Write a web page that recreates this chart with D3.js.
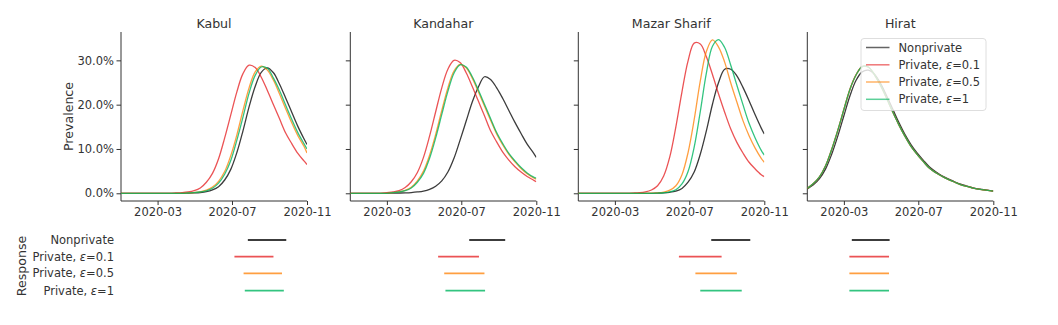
<!DOCTYPE html>
<html>
<head>
<meta charset="utf-8">
<script src="https://cdn.jsdelivr.net/npm/d3@7/dist/d3.min.js"></script>
<style>
  html, body { margin: 0; padding: 0; background: #fff; }
  svg { display: block; font-family: "DejaVu Sans", sans-serif; }
  .axis path, .axis line { stroke: #333; }
  .axis text { fill: #333; font-size: 11.5px; font-family: "DejaVu Sans", sans-serif; }
</style>
</head>
<body>
<svg id="chart" width="1058" height="325"></svg>
<script>
// ---------------- DATA ----------------
const cities = ["Kabul", "Kandahar", "Mazar Sharif", "Hirat"];
const seriesNames = ["Nonprivate", "Private, ε=0.1", "Private, ε=0.5", "Private, ε=1"];
const xTickLabels = ["2020-03", "2020-07", "2020-11"];
const yTickValues = [0, 10, 20, 30];

const dates = ["2020-01-01","2020-01-11","2020-01-21","2020-01-31","2020-02-10","2020-02-20",
  "2020-03-01","2020-03-11","2020-03-21","2020-03-31","2020-04-10","2020-04-20","2020-04-30",
  "2020-05-10","2020-05-20","2020-05-30","2020-06-09","2020-06-19","2020-06-29","2020-07-09",
  "2020-07-19","2020-07-29","2020-08-08","2020-08-18","2020-08-28","2020-09-07","2020-09-17",
  "2020-09-27","2020-10-07","2020-10-17","2020-10-27","2020-11-01"];

// Prevalence (%) per city and series
const kabulNonprivate = [0,0,0,0,0,0,0,0,0,0,0,0.04,0.09,0.18,0.37,0.76,1.5,3.0,5.4,9.2,14.1,19.5,24.1,27.3,28.3,27.2,24.6,21.5,18.3,15.1,12.3,11.0];
const kabulEps01 = [0,0,0,0,0,0,0,0,0,0.07,0.15,0.3,0.6,1.2,2.5,4.5,7.8,12.5,17.7,22.9,27.0,28.9,28.4,26.2,23.2,20.0,16.8,13.6,11.2,9.0,7.3,6.5];
const kabulEps05 = [0,0,0,0,0,0,0,0,0,0,0,0.08,0.17,0.34,0.7,1.4,2.7,4.9,8.5,13.2,18.7,23.8,27.4,28.7,27.8,25.5,22.4,19.1,15.9,13.0,10.6,9.1];
const kabulEps1 = [0,0,0,0,0,0,0,0,0,0,0,0.07,0.14,0.29,0.57,1.15,2.3,4.3,7.4,12.0,17.2,22.6,26.6,28.5,28.2,26.0,23.2,19.9,16.7,13.7,11.2,10.0];

const kandaharNonprivate = [0,0,0,0,0,0,0,0.03,0.06,0.1,0.17,0.3,0.5,0.9,1.6,2.8,4.8,7.9,12.0,16.3,20.6,24.0,26.3,25.7,23.8,21.4,18.7,16.0,13.5,11.1,9.2,8.1];
const kandaharEps01 = [0,0,0,0,0,0,0.15,0.3,0.6,1.3,2.6,4.7,8.1,12.9,18.4,23.8,28.0,30.0,29.5,27.2,24.1,20.8,17.5,14.1,11.6,9.3,7.5,6.0,4.8,3.8,3.0,2.6];
const kandaharEps05 = [0,0,0,0,0,0,0,0.17,0.33,0.65,1.35,2.8,5.0,8.6,13.3,18.7,23.8,27.6,29.1,28.3,26.0,22.9,19.7,16.5,13.4,10.9,8.8,7.1,5.6,4.4,3.5,3.2];
const kandaharEps1 = [0,0,0,0,0,0,0,0.15,0.29,0.58,1.2,2.5,4.5,7.9,12.5,17.8,23.0,27.1,29.0,28.5,26.3,23.3,20.1,16.9,13.7,11.2,9.0,7.3,5.8,4.6,3.7,3.4];

const mazarNonprivate = [0,0,0,0,0,0,0,0,0,0,0,0,0,0.05,0.1,0.23,0.5,1.1,2.5,4.8,8.8,14.1,20.1,25.0,28.0,28.0,26.5,23.9,20.9,17.7,14.7,13.4];
const mazarEps01 = [0,0,0,0,0,0,0,0,0,0.05,0.12,0.3,0.75,1.7,3.9,8.2,15.0,22.9,29.9,33.9,33.7,30.8,26.8,22.4,18.3,14.5,11.5,9.1,7.0,5.5,4.2,3.75];
const mazarEps05 = [0,0,0,0,0,0,0,0,0,0,0,0,0.04,0.1,0.28,0.7,1.7,4.2,9.2,16.6,25.3,32.0,34.6,33.0,29.6,24.9,20.6,16.4,13.0,10.2,7.9,7.0];
const mazarEps1 = [0,0,0,0,0,0,0,0,0,0,0,0,0,0.05,0.12,0.3,0.8,2.1,4.9,10.4,18.4,27.1,33.2,34.7,32.9,28.9,24.4,20.0,15.8,12.5,9.7,8.6];

const hiratNonprivate = [1.0,1.9,3.3,5.5,8.8,12.9,17.5,22.0,25.5,27.4,27.8,26.9,24.8,22.0,19.0,16.0,13.3,11.0,9.1,7.5,6.0,4.9,4.0,3.3,2.7,2.1,1.7,1.3,1.0,0.8,0.6,0.52];
const hiratEps01 = [1.1,2.2,3.7,6.2,9.9,14.2,18.9,23.5,26.8,28.6,28.5,26.8,24.4,21.5,18.4,15.5,12.9,10.6,8.8,7.2,5.7,4.7,3.9,3.2,2.6,2.0,1.6,1.25,0.95,0.75,0.58,0.5];
const hiratEps05 = [1.1,2.2,3.7,6.2,9.9,14.2,18.9,23.5,26.7,28.6,28.5,26.8,24.4,21.5,18.4,15.5,12.9,10.6,8.8,7.2,5.7,4.7,3.9,3.2,2.6,2.0,1.6,1.25,0.95,0.75,0.58,0.5];
const hiratEps1 = [1.1,2.2,3.7,6.2,9.9,14.2,18.9,23.5,26.7,28.6,28.5,26.8,24.4,21.5,18.4,15.5,12.9,10.6,8.8,7.2,5.7,4.7,3.9,3.2,2.6,2.0,1.6,1.25,0.95,0.75,0.58,0.5];

// Response periods [start, end] per city, in series order
const kabulResponse = [["2020-07-27","2020-09-28"],["2020-07-05","2020-09-07"],["2020-07-20","2020-09-21"],["2020-07-22","2020-09-24"]];
const kandaharResponse = [["2020-07-14","2020-09-11"],["2020-05-24","2020-07-30"],["2020-06-03","2020-08-08"],["2020-06-05","2020-08-09"]];
const mazarResponse = [["2020-08-06","2020-10-09"],["2020-06-14","2020-08-23"],["2020-07-11","2020-09-17"],["2020-07-19","2020-09-25"]];
const hiratResponse = [["2020-03-14","2020-05-15"],["2020-03-10","2020-05-14"],["2020-03-10","2020-05-14"],["2020-03-10","2020-05-14"]];

// ---------------- BUILD ----------------
const parse = d3.timeParse("%Y-%m-%d");
const dateObjs = dates.map(parse);
const cityValues = [
  [kabulNonprivate, kabulEps01, kabulEps05, kabulEps1],
  [kandaharNonprivate, kandaharEps01, kandaharEps05, kandaharEps1],
  [mazarNonprivate, mazarEps01, mazarEps05, mazarEps1],
  [hiratNonprivate, hiratEps01, hiratEps05, hiratEps1]
];
const cityResponse = [kabulResponse, kandaharResponse, mazarResponse, hiratResponse];

const colors = ["#1a1a1a", "#e41a1c", "#ff7f00", "#00b560"];
const opac = [0.85, 0.75, 0.75, 0.8];

const svg = d3.select("#chart");
const panelLeft = [121, 350.3, 578.3, 807.3];
const panelW = 186;
const plotTop = 32, plotBottom = 201;

const y = d3.scaleLinear().domain([-1.74, 36.4]).range([plotBottom, plotTop]);
const xDomain = [parse("2020-01-01"), parse("2020-11-01")];
const tickDates = xTickLabels.map(s => parse(s + "-01"));

const rowY = [240, 256.7, 273.3, 290.7];

cities.forEach((city, ci) => {
  const x = d3.scaleTime().domain(xDomain).range([panelLeft[ci], panelLeft[ci] + panelW]);
  const g = svg.append("g");

  const yAx = d3.axisLeft(y).tickValues(yTickValues).tickSize(4.5).tickPadding(2.5)
    .tickFormat(ci === 0 ? (d => d3.format(".1f")(d) + "%") : () => "");
  const yg = g.append("g").attr("class", "axis").attr("transform", `translate(${panelLeft[ci]},0)`).call(yAx);
  yg.select(".domain").attr("d", `M0,${plotTop}V${plotBottom}`);

  const xAx = d3.axisBottom(x).tickValues(tickDates).tickSize(4).tickPadding(3)
    .tickFormat(d3.timeFormat("%Y-%m"));
  const xg = g.append("g").attr("class", "axis").attr("transform", `translate(0,${plotBottom})`).call(xAx);
  xg.select(".domain").attr("d", `M${panelLeft[ci]},0H${panelLeft[ci] + panelW}`);

  g.append("text").attr("x", panelLeft[ci] + panelW / 2).attr("y", 27.5)
    .attr("text-anchor", "middle").attr("font-size", "12.6px").attr("fill", "#333").text(city);

  const clipId = "clip" + ci;
  svg.append("clipPath").attr("id", clipId).append("rect")
    .attr("x", panelLeft[ci]).attr("y", plotTop).attr("width", panelW).attr("height", plotBottom - plotTop);
  const line = d3.line().x((d, i) => x(dateObjs[i])).y(d => y(d)).curve(d3.curveCatmullRom.alpha(0.5));
  [0, 1, 2, 3].forEach(si => {
    g.append("path").attr("d", line(cityValues[ci][si]))
      .attr("fill", "none").attr("stroke", colors[si]).attr("stroke-opacity", opac[si])
      .attr("stroke-width", 1.3).attr("clip-path", `url(#${clipId})`);
  });

  cityResponse[ci].forEach((r, si) => {
    g.append("line")
      .attr("x1", x(parse(r[0]))).attr("x2", x(parse(r[1])))
      .attr("y1", rowY[si]).attr("y2", rowY[si])
      .attr("stroke", colors[si]).attr("stroke-opacity", opac[si]).attr("stroke-width", 1.8);
  });
});

svg.append("text").attr("transform", "translate(73,116.5) rotate(-90)")
  .attr("text-anchor", "middle").attr("font-size", "12.6px").attr("fill", "#333").text("Prevalence");

svg.append("text").attr("transform", "translate(25.5,266) rotate(-90)")
  .attr("text-anchor", "middle").attr("font-size", "12.6px").attr("fill", "#333").text("Response");

function addLabel(sel, name) {
  const m = name.match(/^(.*)ε(.*)$/);
  if (m) {
    sel.append("tspan").text(m[1]);
    sel.append("tspan").attr("font-style", "italic").text("ε");
    sel.append("tspan").text(m[2]);
  } else sel.text(name);
}

seriesNames.forEach((n, si) => {
  const t = svg.append("text").attr("x", 114).attr("y", rowY[si]).attr("dy", "0.36em")
    .attr("text-anchor", "end").attr("font-size", "11.5px").attr("fill", "#333");
  addLabel(t, n);
});

const lg = svg.append("g");
lg.append("rect").attr("x", 861).attr("y", 38.5).attr("width", 125).attr("height", 72)
  .attr("rx", 3).attr("fill", "#fff").attr("fill-opacity", 0.8).attr("stroke", "#d5d5d5").attr("stroke-width", 0.8);
const legRows = [47.5, 64.8, 82, 99.3];
seriesNames.forEach((n, si) => {
  lg.append("line").attr("x1", 866).attr("x2", 889.5).attr("y1", legRows[si]).attr("y2", legRows[si])
    .attr("stroke", colors[si]).attr("stroke-opacity", opac[si] * 0.8).attr("stroke-width", 1.5);
  const t = lg.append("text").attr("x", 898.5).attr("y", legRows[si]).attr("dy", "0.36em")
    .attr("font-size", "11.5px").attr("fill", "#333");
  addLabel(t, n);
});
</script>
</body>
</html>
